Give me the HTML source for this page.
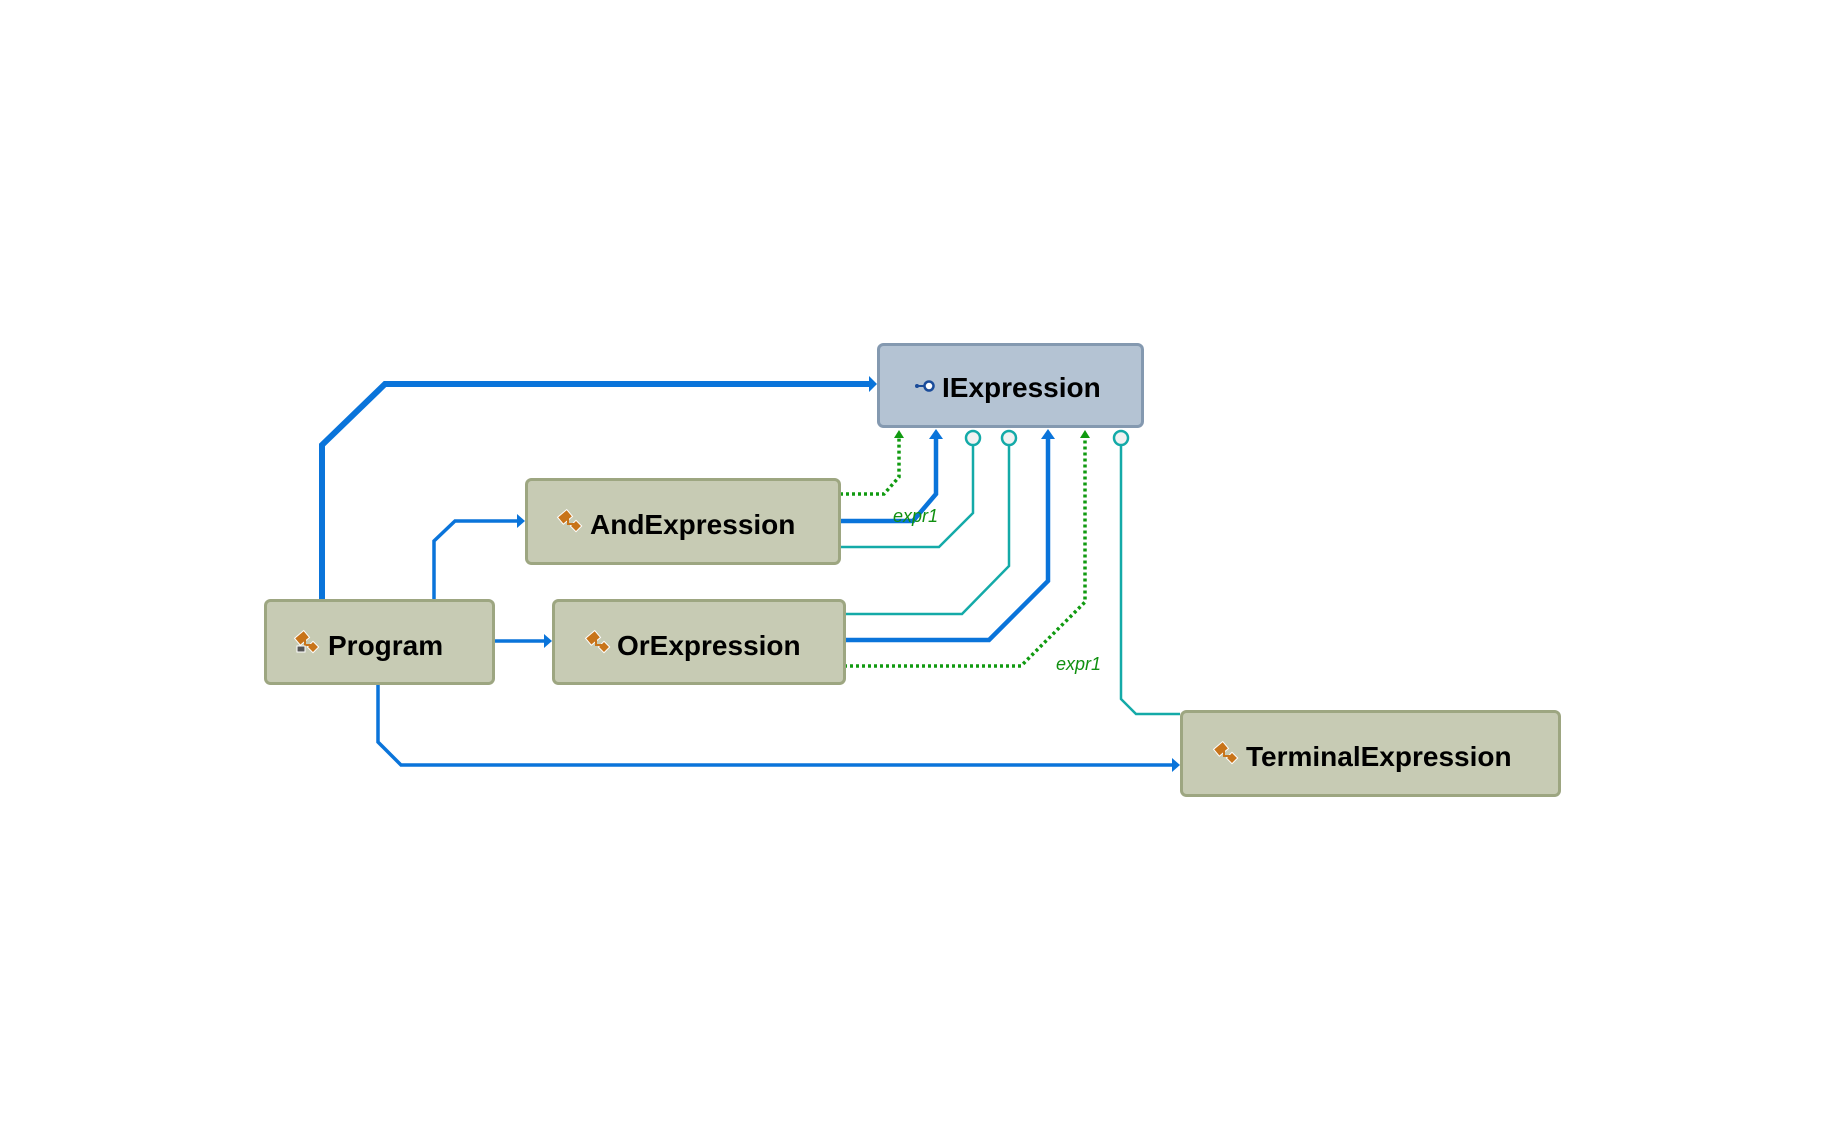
<!DOCTYPE html>
<html><head><meta charset="utf-8"><style>
html,body{margin:0;padding:0;background:#fff;}
svg{display:block;}
text{font-family:"Liberation Sans",sans-serif;}
.n{font-weight:bold;font-size:28px;fill:#000;}
.l{font-style:italic;font-size:18px;fill:#109010;}
</style></head><body>
<svg width="1824" height="1138" viewBox="0 0 1824 1138" xmlns="http://www.w3.org/2000/svg">
<defs>
<g id="ic">
<rect x="-6" y="-6" width="12" height="9" fill="#c8741a" stroke="#fff" stroke-width="1" transform="rotate(-40)"/>
<rect x="6" y="4" width="8" height="8" fill="#c8741a" stroke="#fff" stroke-width="1" transform="rotate(45 10 8)"/>
<path d="M2 -2 v8 h6" fill="none" stroke="#c8741a" stroke-width="2"/>
</g>
</defs>
<g fill="none" stroke-linejoin="miter">
<!-- Program -> IExpression -->
<polyline points="322,599 322,445 385,384 870,384" stroke="#0a74da" stroke-width="6"/>
<polygon points="877,384 869,376 869,392" fill="#0a74da"/>
<!-- Program -> And -->
<polyline points="434,599 434,541 455,521 518,521" stroke="#0a74da" stroke-width="3.5"/>
<polygon points="525,521 517,514 517,528" fill="#0a74da"/>
<!-- Program -> Or -->
<polyline points="493,641 545,641" stroke="#0a74da" stroke-width="3.5"/>
<polygon points="552,641 544,634 544,648" fill="#0a74da"/>
<!-- Program -> Terminal -->
<polyline points="378,683 378,742 401,765 1173,765" stroke="#0a74da" stroke-width="3.5"/>
<polygon points="1180,765 1172,758 1172,772" fill="#0a74da"/>
<!-- And green dotted -->
<polyline points="840,494 884,494 899,477 899,438" stroke="#109a10" stroke-width="3.5" stroke-dasharray="3,3"/>
<polygon points="899,430 894,438 904,438" fill="#109a10"/>
<!-- And blue -->
<polyline points="840,521 913,521 936,494 936,437" stroke="#0a74da" stroke-width="4.5"/>
<polygon points="936,429 929,439 943,439" fill="#0a74da"/>
<!-- And teal -->
<polyline points="840,547 939,547 973,513 973,445" stroke="#14aaa8" stroke-width="2.5"/>
<!-- Or teal -->
<polyline points="844,614 962,614 1009,566 1009,445" stroke="#14aaa8" stroke-width="2.5"/>
<!-- Or blue -->
<polyline points="844,640 989,640 1048,581 1048,437" stroke="#0a74da" stroke-width="4.5"/>
<polygon points="1048,429 1041,439 1055,439" fill="#0a74da"/>
<!-- Or green dotted -->
<polyline points="844,666 1021,666 1085,602 1085,438" stroke="#109a10" stroke-width="3.5" stroke-dasharray="3,3"/>
<polygon points="1085,430 1080,438 1090,438" fill="#109a10"/>
<!-- Terminal teal -->
<polyline points="1180,714 1136,714 1121,699 1121,445" stroke="#14aaa8" stroke-width="2.5"/>
</g>
<g fill="#f2f2f2" stroke="#14aaa8" stroke-width="2.5">
<circle cx="973" cy="438" r="7"/>
<circle cx="1009" cy="438" r="7"/>
<circle cx="1121" cy="438" r="7"/>
</g>
<text class="l" x="893" y="522">expr1</text>
<text class="l" x="1056" y="670">expr1</text>
<!-- boxes -->
<rect x="878.5" y="344.5" width="264" height="82" rx="5" fill="#b4c3d3" stroke="#8499b0" stroke-width="3"/>
<g transform="translate(925,386)"><line x1="-8" y1="0" x2="0" y2="0" stroke="#1a4c9a" stroke-width="2"/><circle cx="-8" cy="0" r="2" fill="#1a4c9a"/><circle cx="4" cy="0" r="4.5" fill="#fff" stroke="#1a4c9a" stroke-width="2.5"/></g>
<text class="n" x="942" y="397">IExpression</text>

<rect x="526.5" y="479.5" width="313" height="84" rx="5" fill="#c7cbb4" stroke="#9da681" stroke-width="3"/>
<use href="#ic" x="566" y="518"/>
<text class="n" x="590" y="534">AndExpression</text>

<rect x="265.5" y="600.5" width="228" height="83" rx="5" fill="#c7cbb4" stroke="#9da681" stroke-width="3"/>
<use href="#ic" x="303" y="639"/>
<rect x="297" y="646" width="8" height="6" fill="#555" stroke="#fff" stroke-width="1"/>
<text class="n" x="328" y="655">Program</text>

<rect x="553.5" y="600.5" width="291" height="83" rx="5" fill="#c7cbb4" stroke="#9da681" stroke-width="3"/>
<use href="#ic" x="594" y="639"/>
<text class="n" x="617" y="655">OrExpression</text>

<rect x="1181.5" y="711.5" width="378" height="84" rx="5" fill="#c7cbb4" stroke="#9da681" stroke-width="3"/>
<use href="#ic" x="1222" y="750"/>
<text class="n" x="1246" y="766">TerminalExpression</text>
</svg>
</body></html>
